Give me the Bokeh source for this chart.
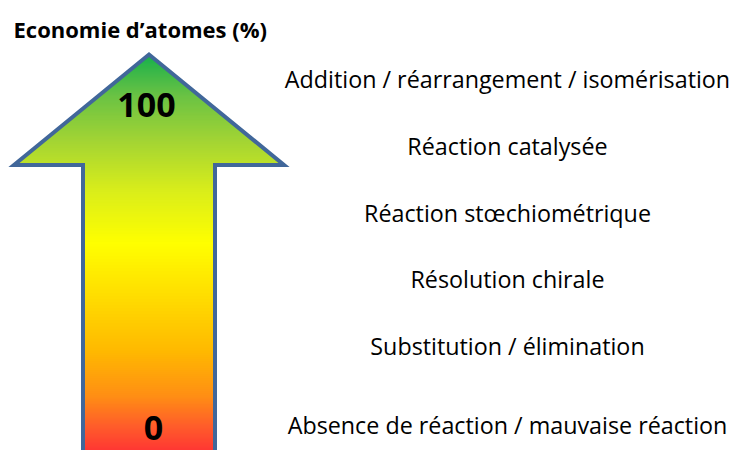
import numpy as np
from bokeh.plotting import figure
from bokeh.models import Range1d, ColumnDataSource
from bokeh.core.properties import value
from bokeh.embed import file_html
from bokeh.resources import INLINE

# ---- data ----
title_text = "Economie d\u2019atomes (%)"
scale_labels = ["100", "0"]
categories = [
    "Addition / réarrangement / isomérisation",
    "Réaction catalysée",
    "Réaction stœchiométrique",
    "Résolution chirale",
    "Substitution / élimination",
    "Absence de réaction / mauvaise réaction",
]

# ---- layout (screen-like units, y grows downward) ----
W, H = 733, 450
X0, Y0 = 0, 0
tip_x, tip_y = 148.5, 54
head_half, head_base = 135, 164.5
shaft_half = 66
bottom = Y0 + H + 12
scale_y = [104, 427]
scale_x = [146, 153]
label_x = 507
label_y = [78, 145, 212, 278, 345, 424]

grad_stops = [(52, "#12AF4C"), (95, "#6AC244"), (140, "#A2D434"), (190, "#D9ED1B"),
              (243, "#FFFF00"), (300, "#FFDA00"), (350, "#FFB900"), (395, "#FF8F14"),
              (425, "#FF5E2A"), (452, "#FF3434")]

def hex2rgb(h):
    return np.array([int(h[i:i + 2], 16) for i in (1, 3, 5)], dtype=float)

stop_y = np.array([s[0] for s in grad_stops], dtype=float)
stop_c = np.array([hex2rgb(s[1]) for s in grad_stops])

def color_at(y):
    r = np.interp(y, stop_y, stop_c[:, 0])
    g = np.interp(y, stop_y, stop_c[:, 1])
    b = np.interp(y, stop_y, stop_c[:, 2])
    return "#%02x%02x%02x" % (int(round(r)), int(round(g)), int(round(b)))

p = figure(width=W, height=H, output_backend="svg", toolbar_location=None,
           x_range=Range1d(X0, X0 + W), y_range=Range1d(Y0 + H, Y0),
           min_border=0, x_axis_type=None, y_axis_type=None)
p.grid.visible = False
p.outline_line_color = None
p.background_fill_color = "white"
p.border_fill_color = "white"

# gradient strips clipped to arrow shape
ys = np.arange(tip_y, bottom, 1.0)
lefts, rights, tops, bots, cols = [], [], [], [], []
for y in ys:
    yc = y + 0.5
    if yc < head_base:
        hw = head_half * (yc - tip_y) / (head_base - tip_y)
    else:
        hw = shaft_half
    lefts.append(tip_x - hw)
    rights.append(tip_x + hw)
    tops.append(y)
    bots.append(y + 1.6)
    cols.append(color_at(yc))
src = ColumnDataSource(dict(left=lefts, right=rights, top=tops, bottom=bots, color=cols))
p.quad(left="left", right="right", top="top", bottom="bottom", fill_color="color",
       line_color=None, source=src)

# outline
ox = [tip_x - shaft_half, tip_x - shaft_half, tip_x - head_half, tip_x,
      tip_x + head_half, tip_x + shaft_half, tip_x + shaft_half]
oy = [bottom + 10, head_base, head_base, tip_y, head_base, head_base, bottom + 10]
p.patch(ox, oy, fill_color=None, line_color="#41679A", line_width=4, line_join="miter")

# title
p.text(x=[13], y=[28], text=[title_text], text_font=value("Open Sans"), text_font_style="bold",
       text_font_size="22px", text_align="left", text_baseline="middle", text_color="black")

# scale labels
p.text(x=scale_x, y=scale_y, text=scale_labels, text_font=value("Open Sans"), text_font_style="bold",
       text_font_size="34px", text_align="center", text_baseline="middle", text_color="black")

# categories
p.text(x=[label_x] * len(categories), y=label_y, text=categories, text_font=value("Open Sans"),
       text_font_size="23.3px", text_align="center", text_baseline="middle", text_color="black")

open("out.html", "w").write(file_html(p, INLINE))
